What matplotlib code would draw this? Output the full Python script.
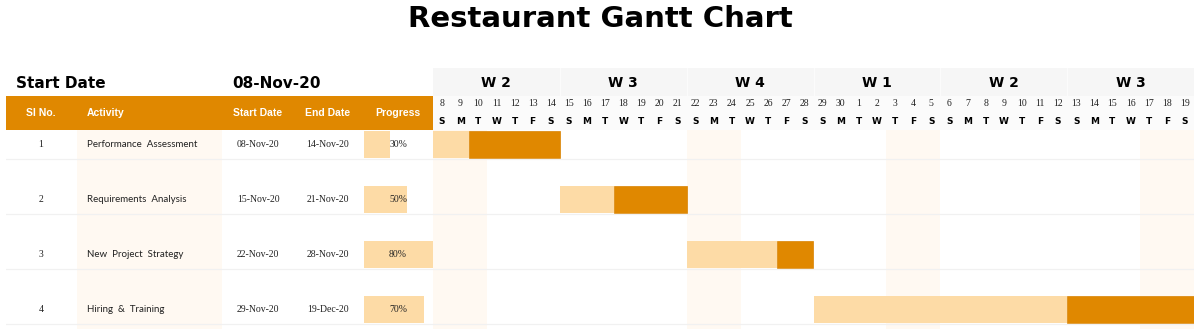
import pandas as pd
import matplotlib
matplotlib.use("Agg")
import matplotlib.pyplot as plt

# ---- data ----
sl_no = [1, 2, 3, 4]
activities = ["Performance  Assessment", "Requirements  Analysis",
              "New  Project  Strategy", "Hiring  &  Training"]
start_dates = pd.to_datetime(["2020-11-08", "2020-11-15", "2020-11-22", "2020-11-29"])
end_dates = pd.to_datetime(["2020-11-14", "2020-11-21", "2020-11-28", "2020-12-19"])
progress = [30, 50, 80, 70]
done_days = [2, 3, 5, 14]
week_labels = ["W 2", "W 3", "W 4", "W 1", "W 2", "W 3"]
chart_start = pd.Timestamp("2020-11-08")
chart_end = pd.Timestamp("2020-12-19")

# ---- styling ----
ORANGE = "#E08800"
PEACH = "#FDDBA6"
FAINT = "#FFF9F2"
LINE = "#F1F1F1"
W, H = 1200, 329
PITCH = 55.0          # px per row
ROW0 = 144.5          # px centre of first row


def box(x0, y0, x1, y1):
    return [x0 / W, 1 - y1 / H, (x1 - x0) / W, (y1 - y0) / H]


def row_units(px):
    return (px - ROW0) / PITCH


days = pd.date_range(chart_start, chart_end)
ndays = len(days)
rows = list(range(len(activities)))
offsets = [(d - chart_start).days for d in start_dates]
durations = [(e - s).days + 1 for s, e in zip(start_dates, end_dates)]
remaining = [d - k for d, k in zip(durations, done_days)]

fig = plt.figure(figsize=(12, 3.29), dpi=100)
fig.patch.set_facecolor("white")

fig.text(0.5, 1 - 19 / H, "Restaurant Gantt Chart", ha="center", va="center",
         fontsize=21, fontweight="bold", family="DejaVu Sans")
fig.text(16 / W, 1 - 83 / H, "Start Date", ha="left", va="center",
         fontsize=11, fontweight="bold", family="DejaVu Sans")
fig.text(232 / W, 1 - 83 / H, chart_start.strftime("%d-%b-%y"), ha="left", va="center",
         fontsize=11, fontweight="bold", family="DejaVu Sans")

y_top, y_bot = row_units(130), row_units(329)

# progress bars (100% = 86 px), drawn beneath the table text
prg = fig.add_axes(box(364, 130, 450, 329))
prg.set_xlim(0, 100)
prg.set_ylim(y_bot, y_top)
prg.axis("off")
prg.set_zorder(0)
prg.barh(rows, progress, height=0.49, color=PEACH, lw=0)

# ---- left table ----
tab = fig.add_axes(box(6, 96, 433, 329))
tab.set_zorder(1)
tab.set_xlim(6, 433)
tab.set_ylim(y_bot, row_units(96))
tab.axis("off")
tab.axhspan(row_units(96), y_top, color=ORANGE, lw=0)
tab.fill_betweenx([y_top, y_bot], 77, 222, color=FAINT, lw=0)
hy = row_units(113)
hdr = dict(color="white", fontweight="bold", fontsize=7.5, va="center",
           family="Liberation Sans")
tab.text(41, hy, "Sl No.", ha="center", **hdr)
tab.text(87, hy, "Activity", ha="left", **hdr)
tab.text(258, hy, "Start Date", ha="center", **hdr)
tab.text(328, hy, "End Date", ha="center", **hdr)
tab.text(398, hy, "Progress", ha="center", **hdr)
body = dict(fontsize=7, va="center", color="#222222")
for i in rows:
    tab.text(41, i, str(sl_no[i]), ha="center", family="Liberation Serif", **body)
    tab.text(87, i, activities[i], ha="left", family="Lato", **body)
    tab.text(258, i, start_dates[i].strftime("%d-%b-%y"), ha="center",
             family="Liberation Serif", **body)
    tab.text(328, i, end_dates[i].strftime("%d-%b-%y"), ha="center",
             family="Liberation Serif", **body)
    tab.text(398, i, f"{progress[i]}%", ha="center", family="Liberation Serif", **body)
    tab.axhline(i + 0.26, color=LINE, lw=0.9)

# ---- gantt area ----
gan = fig.add_axes(box(433, 130, 1194, 329))
gan.set_xlim(0, ndays)
gan.set_ylim(y_bot, y_top)
gan.axis("off")
for a, b in [(0, 3), (14, 17), (25, 28), (39, 42)]:
    gan.axvspan(a, b, color=FAINT, lw=0)
for i in rows:
    gan.axhline(i + 0.26, color=LINE, lw=0.9)
gan.barh(rows, done_days, left=offsets, height=0.49, color=PEACH, lw=0)
gan.barh(rows, remaining, left=[o + k for o, k in zip(offsets, done_days)],
         height=0.49, color=ORANGE, edgecolor="#D98200", lw=0.5)

# gantt header: weeks, day numbers, weekday letters
top = fig.add_axes(box(433, 68, 1194, 130))
top.set_xlim(0, ndays)
top.set_ylim(62, 0)
top.axis("off")
top.axhspan(0, 28, color="#F6F6F6", lw=0)
top.axhspan(28, 62, color="#FBFBFB", lw=0)
for w, lab in enumerate(week_labels):
    top.text(w * 7 + 3.5, 15, lab, ha="center", va="center", fontsize=10,
             fontweight="bold", family="DejaVu Sans")
    if w:
        top.plot([w * 7, w * 7], [0, 28], color="#FBFBFB", lw=1)
letters = "MTWTFSS"
for k, d in enumerate(days):
    top.text(k + 0.5, 36, str(d.day), ha="center", va="center", fontsize=7,
             family="Liberation Serif", color="#222222")
    top.text(k + 0.5, 54, letters[d.dayofweek], ha="center", va="center",
             fontsize=6.5, fontweight="bold", family="DejaVu Sans")

fig.savefig("out.png", dpi=100)
